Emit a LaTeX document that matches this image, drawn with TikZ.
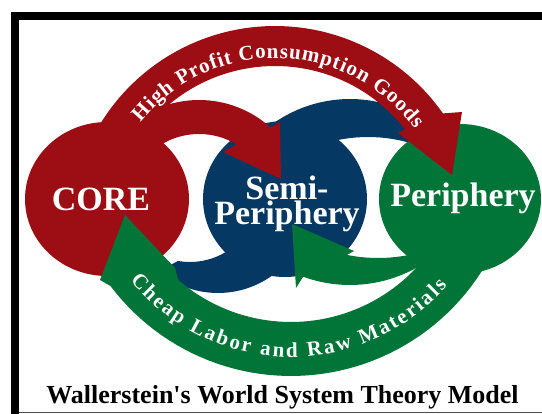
\documentclass[tikz,border=0pt]{standalone}
\usepackage{fontspec}
\newfontfamily\diagfont{Liberation Serif}
\usetikzlibrary{calc}
\usetikzlibrary{shapes.geometric}
\usetikzlibrary{decorations.text}

\definecolor{coreRed}{RGB}{156,13,20}
\definecolor{semiBlue}{RGB}{5,56,98}
\definecolor{periGreen}{RGB}{1,116,56}
\newcommand{\bandfont}{\diagfont\bfseries\fontsize{21}{21}\selectfont}

\begin{document}
\begin{tikzpicture}[x=1pt,y=-1pt]
\tikzset{hub/.style={ellipse,minimum width=164pt,minimum height=154pt,inner sep=0pt}}
\tikzset{hubtext/.style={anchor=base,text=white,font=\diagfont\bfseries\fontsize{34}{34}\selectfont}}
\tikzset{bandtext/.style={decorate,decoration={text along path,text align={fit to path},text color=white,text={#1}}}}
\useasboundingbox (0,0) rectangle (542,414);
\fill[white] (0,0) rectangle (542,414);
% frame
\fill[black] (11,11.7) rectangle (542,20);
\fill[black] (11,11.7) rectangle (19,414);
\draw[black!70,line width=1.2pt] (19,412.6) -- (542,412.6);
% blue arcs of the semi-periphery
\fill[semiBlue] plot[domain=-150:-20,samples=40] ({350+133*cos(\x)},{232+133*sin(\x)})
  -- plot[domain=-40:-125,samples=40] ({368+153*cos(\x)},{290+153*sin(\x)}) -- cycle;
\fill[semiBlue] plot[domain=20:128,samples=40] ({218+93*cos(\x)},{200+93*sin(\x)})
  -- (165,268) -- plot[domain=100:20,samples=40] ({190+69*cos(\x)},{193+69*sin(\x)}) -- cycle;
% the three zones
\node[hub,fill=coreRed] (core) at (107,199) {};
\node[hub,fill=semiBlue,minimum height=156pt] (semi) at (285,199) {};
\node[hub,fill=periGreen,minimum width=162pt,minimum height=150pt] (peri) at (460,199) {};
% red arrows from the core
\fill[coreRed] plot[domain=-150:-48,samples=40] ({199+107*cos(\x)},{207+107*sin(\x)})
  -- (280,122) -- (281,179) -- (223,152)
  -- plot[domain=-59:-150,samples=40] ({199+73*cos(\x)},{207+73*sin(\x)}) -- cycle;
\fill[coreRed] plot[domain=-165:-35,samples=60] ({275+205*cos(\x)},{231+205*sin(\x)})
  -- (462,112) -- (452,175) -- (398,133)
  -- plot[domain=-38:-165,samples=60] ({275+165*cos(\x)},{231+165*sin(\x)}) -- cycle;
% green arrows from the periphery
\fill[periGreen] plot[domain=30:110,samples=40] ({350+137*cos(\x)},{148+137*sin(\x)})
  -- (296,288) -- (292,224) -- (354,251)
  -- plot[domain=101.3:60,samples=40] ({378+158*cos(\x)},{100+158*sin(\x)}) -- cycle;
\fill[periGreen] plot[domain=10:143,samples=60] ({291+226*cos(\x)},{150+226*sin(\x)})
  -- (100,280) -- (125,215) -- (175,268)
  -- plot[domain=131:10,samples=60] ({291+172*cos(\x)},{150+172*sin(\x)}) -- cycle;
% labels on the bands
\path[bandtext={|\bandfont|High Profit Consumption Goods}] plot[domain=-141:-36,samples=60] ({275+173*cos(\x)},{231+173*sin(\x)});
\path[bandtext={|\bandfont|Cheap Labor and Raw Materials}] plot[domain=141:41,samples=60] ({291+207*cos(\x)},{150+207*sin(\x)});
% zone names
\node[hubtext] (coreName) at (101,211) {CORE};
\node[hubtext] (semiName) at (287,200) {Semi-};
\node[hubtext] (semiName2) at (287,225) {Periphery};
\node[hubtext] (periName) at (463,207) {Periphery};
\node[anchor=base,font=\diagfont\bfseries\fontsize{26}{26}\selectfont] (title) at (282.5,404) {Wallerstein's World System Theory Model};
\end{tikzpicture}
\end{document}
